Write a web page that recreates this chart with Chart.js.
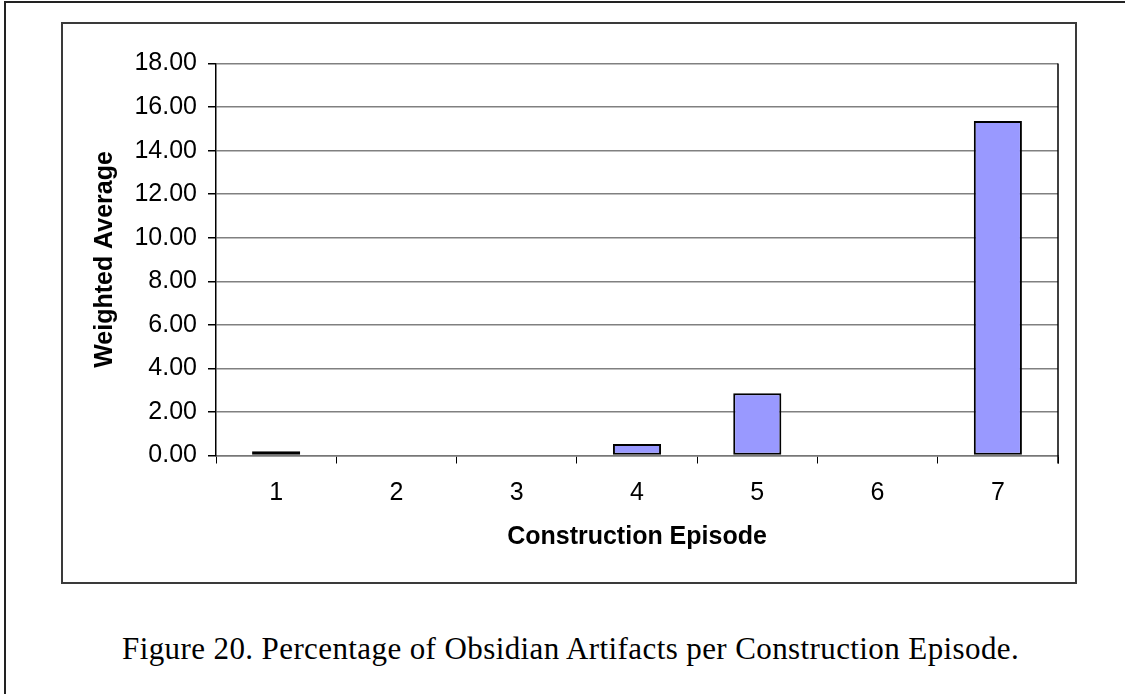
<!DOCTYPE html>
<html>
<head>
<meta charset="utf-8">
<script src="https://cdn.jsdelivr.net/npm/chart.js@4.4.0/dist/chart.umd.min.js"></script>
<style>
  html, body { margin: 0; padding: 0; background: #fff; }
  body { width: 1125px; height: 694px; position: relative; overflow: hidden; }
  #page { position: absolute; left: 4px; top: 1px; width: 1300px; height: 900px; border: 2px solid #222; }
  #box { position: absolute; left: 61px; top: 22px; width: 1012px; height: 558px; border: 2px solid #3a3a3a; }
  #wrap { position: absolute; left: 63px; top: 24px; width: 1012px; height: 558px; }
  #caption { position: absolute; left: 122px; top: 633px; font-family: "Liberation Serif", "Times New Roman", serif;
             font-size: 31px; line-height: 31px; letter-spacing: 0.4px; color: #000; white-space: nowrap; }
</style>
</head>
<body>
<div id="page"></div>
<div id="box"></div>
<div id="wrap"><canvas id="chart"></canvas></div>
<div id="caption">Figure 20. Percentage of Obsidian Artifacts per Construction Episode.</div>
<script>
// data
const episodes = ['1', '2', '3', '4', '5', '6', '7'];
const weightedAvg = [0.2, 0, 0, 0.53, 2.86, 0, 15.36];
const yTicks = [0, 2, 4, 6, 8, 10, 12, 14, 16, 18];

const font = "'Liberation Sans', Arial, sans-serif";

// right edge of the plot frame
const frameRight = {
    id: 'frameRight',
    afterDraw(chart) {
        const {ctx, chartArea: a} = chart;
        ctx.save();
        ctx.strokeStyle = '#000';
        ctx.lineWidth = 1.5;
        ctx.beginPath();
        ctx.moveTo(a.right, a.top);
        ctx.lineTo(a.right, a.bottom + 8);
        ctx.stroke();
        ctx.restore();
    }
};

const ctx = document.getElementById('chart').getContext('2d');
new Chart(ctx, {
    type: 'bar',
    data: {
        labels: episodes,
        datasets: [{
            label: 'Weighted Average',
            data: weightedAvg,
            backgroundColor: '#9999ff',
            borderColor: '#000',
            borderWidth: 2,
            borderSkipped: false,
            categoryPercentage: 1,
            barPercentage: 0.4
        }]
    },
    options: {
        responsive: true,
        maintainAspectRatio: false,
        animation: false,
        devicePixelRatio: 1,
        layout: { padding: { left: 0, top: 39.5, right: 17, bottom: 0 } },
        plugins: {
            legend: { display: false },
            tooltip: { enabled: false }
        },
        scales: {
            x: {
                afterFit: s => { s.height = 126.5; },
                grid: { offset: true, drawOnChartArea: false, drawTicks: true, tickLength: 8, color: '#000', tickColor: '#000' },
                border: { color: '#777', width: 1.5 },
                ticks: { color: '#000', padding: 15, font: { family: font, size: 25 } },
                title: {
                    display: true, text: 'Construction Episode', color: '#000',
                    font: { family: font, size: 25, weight: 'bold' },
                    padding: { top: 0, bottom: 30 }
                }
            },
            y: {
                min: 0, max: 18,
                afterFit: s => { s.width = 153; },
                afterBuildTicks: s => { s.ticks = yTicks.map(v => ({ value: v })); },
                grid: { color: '#808080', lineWidth: 1.5, tickLength: 8, tickColor: '#000' },
                border: { color: '#000', width: 1.5 },
                ticks: {
                    color: '#000', padding: 11,
                    font: { family: font, size: 25 },
                    callback: v => v.toFixed(2)
                },
                title: {
                    display: true, text: 'Weighted Average', color: '#000',
                    font: { family: font, size: 25, weight: 'bold' },
                    padding: { top: 27, bottom: 0 }
                }
            }
        }
    },
    plugins: [frameRight]
});
</script>
</body>
</html>
